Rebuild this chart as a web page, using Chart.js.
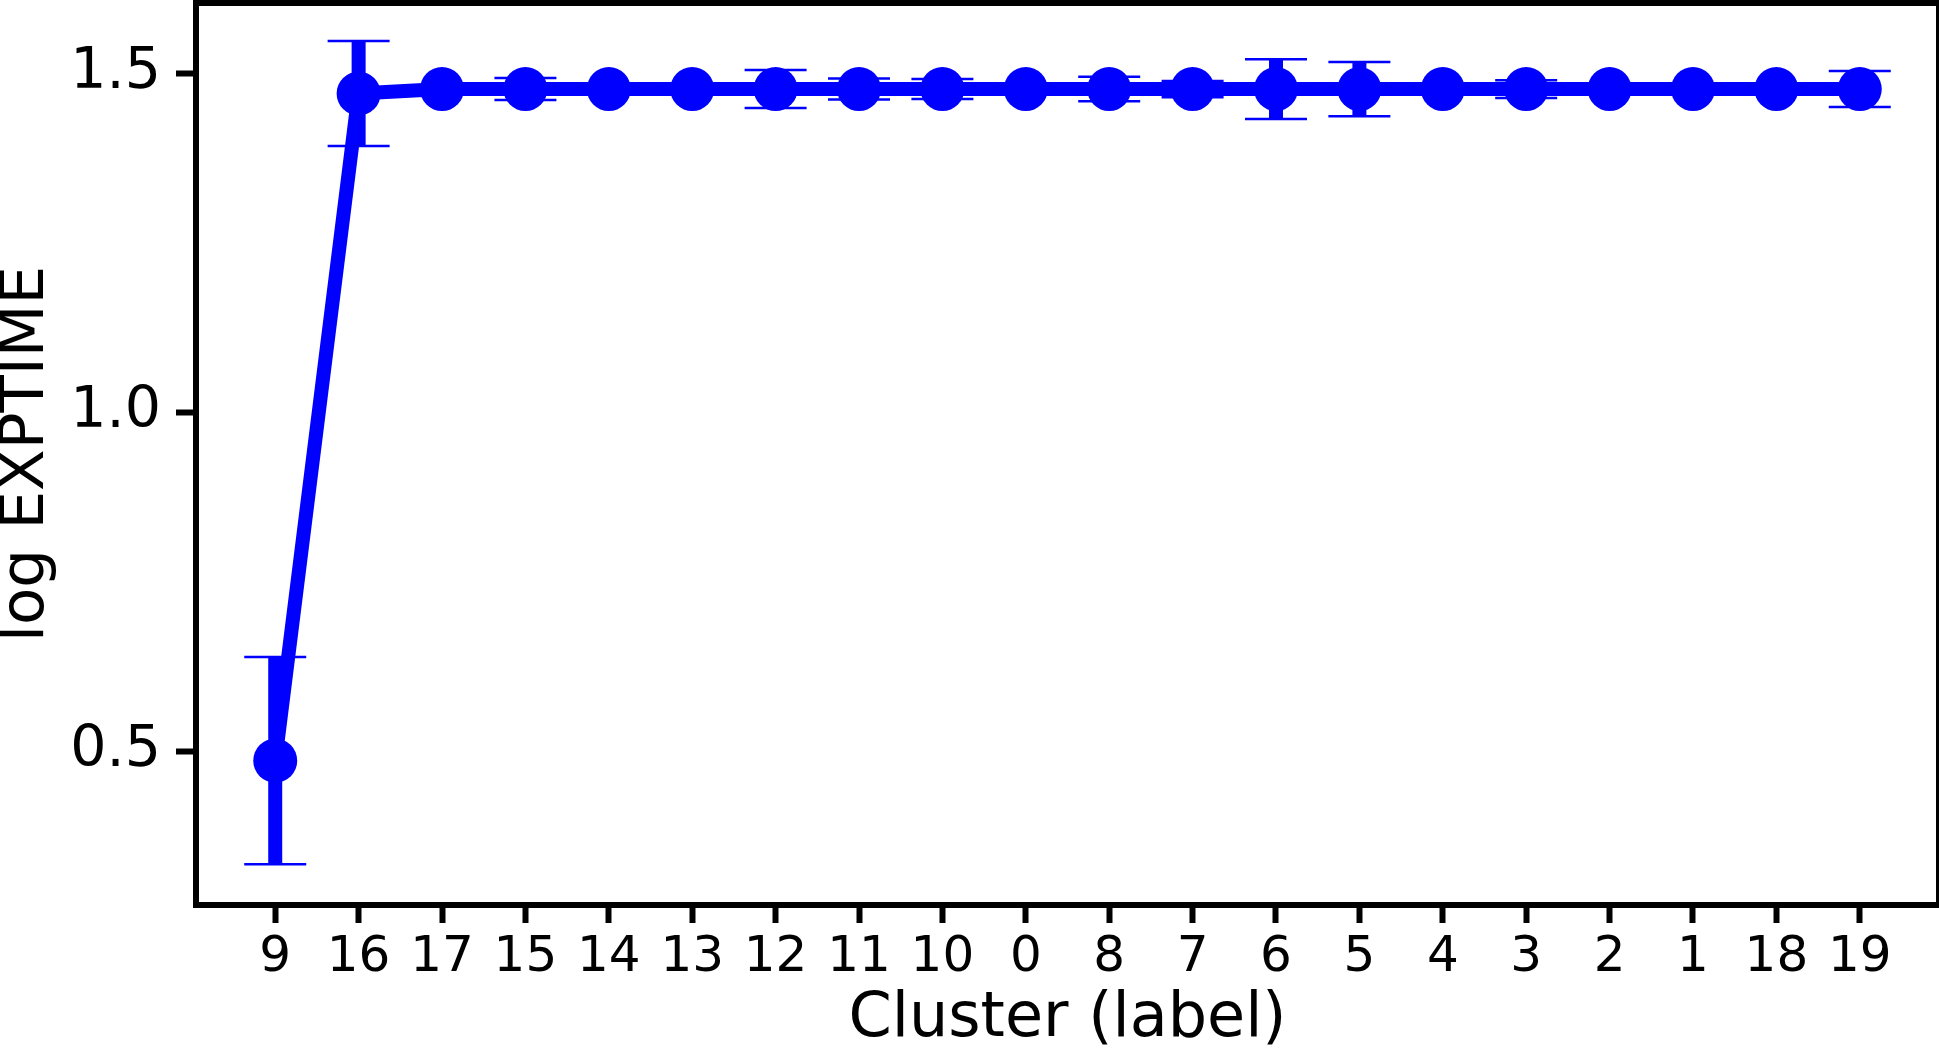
<!DOCTYPE html>
<html>
<head>
<meta charset="utf-8">
<script src="https://cdn.jsdelivr.net/npm/chart.js@4/dist/chart.umd.min.js"></script>
<style>
    body { margin: 0; background: #fff; }
    .container { width: 1939px; height: 1052px; position: relative; }
</style>
</head>
<body>
<div class="container">
    <canvas id="graficoExptime"></canvas>
</div>
<script>
// Datos
const clusters = ['9', '16', '17', '15', '14', '13', '12', '11', '10', '0', '8', '7', '6', '5', '4', '3', '2', '1', '18', '19'];
const medias = [0.486, 1.4705, 1.477, 1.477, 1.477, 1.477, 1.477, 1.477, 1.477, 1.477, 1.477, 1.477, 1.477, 1.477, 1.477, 1.477, 1.477, 1.477, 1.477, 1.477];
const errores = [0.153, 0.0774, 0, 0.0162, 0, 0, 0.028, 0.0155, 0.0147, 0, 0.018, 0.012, 0.044, 0.040, 0, 0.013, 0, 0, 0, 0.0265];
const ticksY = [0.5, 1.0, 1.5];

const azul = '#0000ff';
const fuente = 'DejaVu Sans';

// Barras de error (debajo de la linea)
const barrasError = {
    id: 'barrasError',
    beforeDatasetsDraw(chart) {
        const { ctx, scales: { x, y } } = chart;
        ctx.save();
        ctx.strokeStyle = azul;
        medias.forEach((m, i) => {
            const px = x.getPixelForValue(i);
            const arriba = y.getPixelForValue(m + errores[i]);
            const abajo = y.getPixelForValue(m - errores[i]);
            ctx.lineWidth = 14;
            ctx.beginPath();
            ctx.moveTo(px, arriba);
            ctx.lineTo(px, abajo);
            ctx.stroke();
            ctx.lineWidth = 2.5;
            ctx.beginPath();
            ctx.moveTo(px - 31, arriba);
            ctx.lineTo(px + 31, arriba);
            ctx.moveTo(px - 31, abajo);
            ctx.lineTo(px + 31, abajo);
            ctx.stroke();
        });
        ctx.restore();
    }
};

// Marco negro alrededor del area
const marco = {
    id: 'marco',
    afterDatasetsDraw(chart) {
        const { ctx, chartArea: a } = chart;
        ctx.save();
        ctx.strokeStyle = '#000';
        ctx.lineWidth = 6;
        ctx.strokeRect(a.left, a.top, a.right - a.left, a.bottom - a.top);
        ctx.restore();
    }
};

new Chart(document.getElementById('graficoExptime').getContext('2d'), {
    type: 'line',
    data: {
        datasets: [{
            data: clusters.map((c, i) => ({ x: i, y: medias[i] })),
            borderColor: azul,
            backgroundColor: azul,
            borderWidth: 14,
            pointRadius: 22,
            pointBorderWidth: 0,
            pointBackgroundColor: azul,
            tension: 0,
            clip: false
        }]
    },
    options: {
        responsive: true,
        maintainAspectRatio: false,
        animation: false,
        layout: { autoPadding: false, padding: { top: 3, right: 0, left: 0, bottom: 0 } },
        plugins: {
            legend: { display: false },
            tooltip: { enabled: false }
        },
        scales: {
            x: {
                type: 'linear',
                min: -0.95,
                max: 19.95,
                afterBuildTicks: (scale) => {
                    scale.ticks = clusters.map((c, i) => ({ value: i }));
                },
                afterFit: (scale) => {
                    scale.height = 147;
                    scale.paddingLeft = 0;
                    scale.paddingRight = 0;
                },
                ticks: {
                    autoSkip: false,
                    maxRotation: 0,
                    padding: 5,
                    color: '#000',
                    font: { family: fuente, size: 50 },
                    callback: (v) => clusters[v]
                },
                grid: {
                    drawOnChartArea: false,
                    drawTicks: true,
                    tickLength: 18,
                    tickWidth: 6,
                    tickColor: '#000'
                },
                border: { display: false },
                title: {
                    display: true,
                    text: 'Cluster (label)',
                    color: '#000',
                    font: { family: fuente, size: 62, lineHeight: 1 },
                    padding: { top: 0, bottom: 1 }
                }
            },
            y: {
                min: 0.273,
                max: 1.604,
                afterBuildTicks: (scale) => {
                    scale.ticks = ticksY.map(v => ({ value: v }));
                },
                afterFit: (scale) => {
                    scale.width = 196;
                    scale.paddingTop = 0;
                    scale.paddingBottom = 0;
                },
                ticks: {
                    padding: 15,
                    color: '#000',
                    font: { family: fuente, size: 57 },
                    callback: (v) => v.toFixed(1)
                },
                grid: {
                    drawOnChartArea: false,
                    drawTicks: true,
                    tickLength: 20,
                    tickWidth: 6,
                    tickColor: '#000'
                },
                border: { display: false },
                title: {
                    display: true,
                    text: 'log EXPTIME',
                    color: '#000',
                    font: { family: fuente, size: 61, lineHeight: 1 },
                    padding: { top: -3, bottom: 0 }
                }
            }
        }
    },
    plugins: [barrasError, marco]
});
</script>
</body>
</html>
